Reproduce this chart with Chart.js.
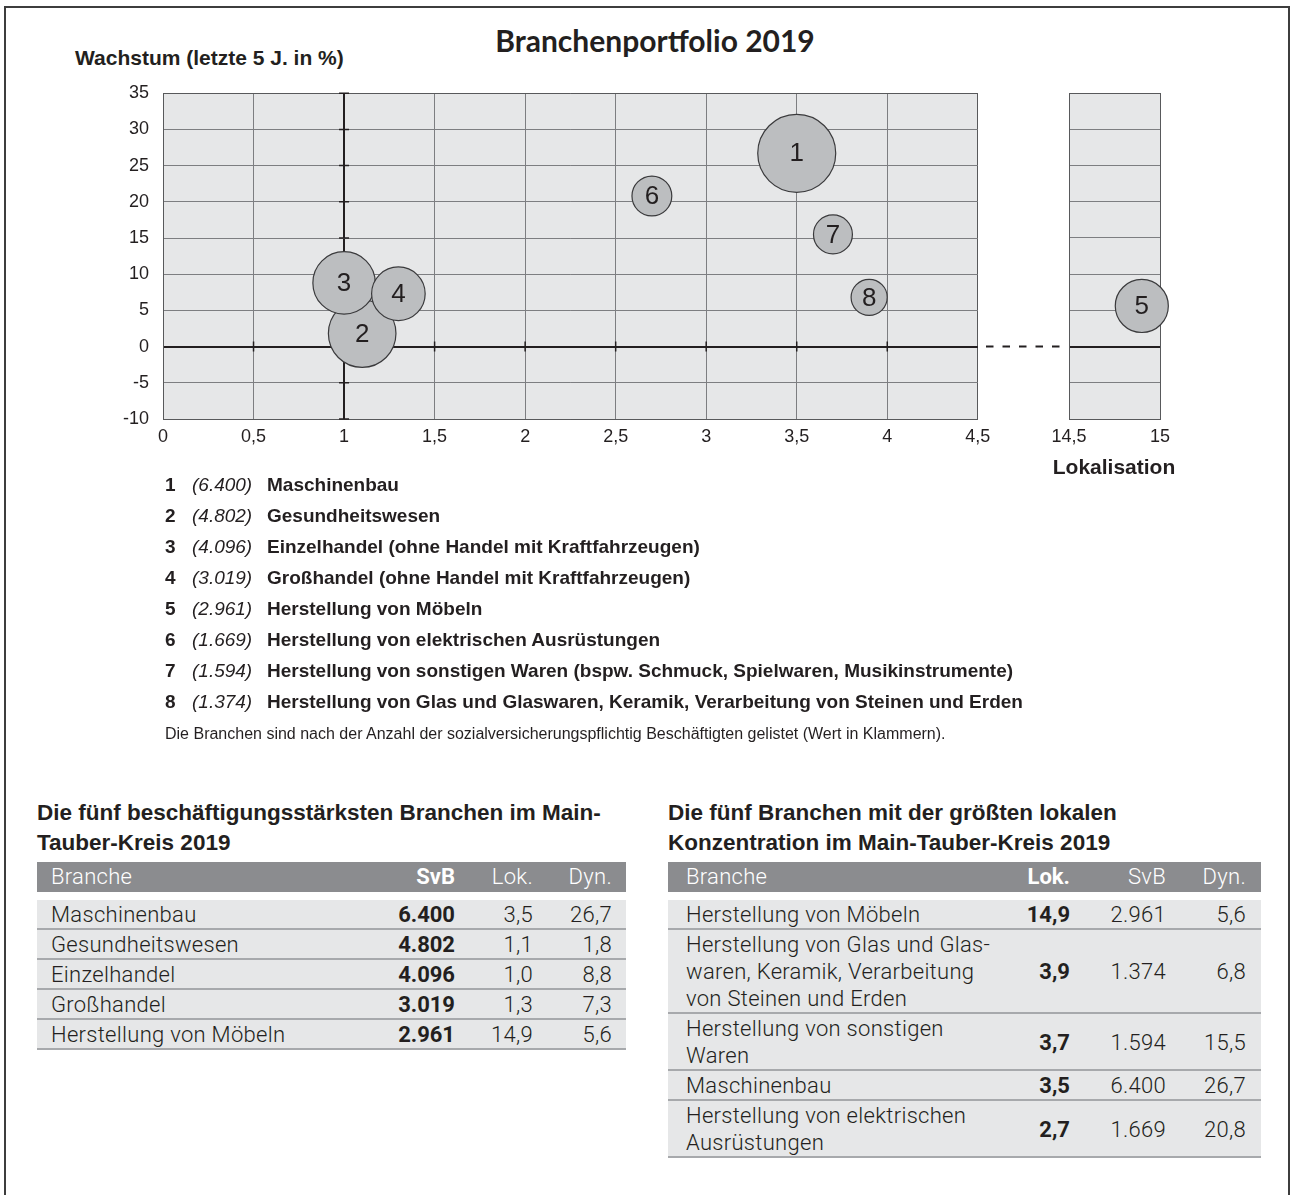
<!DOCTYPE html>
<html lang="de">
<head>
<meta charset="utf-8">
<title>Branchenportfolio 2019</title>
<script src="https://cdn.jsdelivr.net/npm/chart.js@4.4.1/dist/chart.umd.min.js"></script>
<style>
  body { margin: 0; width: 1291px; height: 1195px; overflow: hidden; position: relative; background: #fff;
         font-family: "Liberation Sans", Arial, sans-serif; color: #231f20; }
  #rahmen { position: absolute; left: 4px; top: 6px; width: 1282px; height: 1220px; border: 2px solid #3d3d3d; }
  #titel { position: absolute; left: 0; width: 1310px; top: 20px; text-align: center;
           font-family: Lato, sans-serif; font-weight: 700; font-size: 30px; line-height: 40px; }
  #ytitel { position: absolute; left: 75px; top: 47px; font-weight: 700; font-size: 21px; line-height: 22px; white-space: nowrap; }
  #xtitel { position: absolute; left: 1014px; width: 200px; top: 455px; text-align: center; font-weight: 700; font-size: 21px; line-height: 24px; }
  #links { position: absolute; left: 100px; top: 53px; }
  #rechts { position: absolute; left: 980px; top: 53px; }
  #liste { position: absolute; left: 165px; top: 469px; font-size: 19px; font-weight: 700; }
  #liste div { height: 31px; line-height: 31px; white-space: nowrap; }
  #liste span { display: inline-block; }
  #liste .nr { width: 27px; }
  #liste .svb { width: 75px; font-style: italic; font-weight: 400; }
  #fuss { position: absolute; left: 165px; top: 724px; font-size: 16px; line-height: 20px; white-space: nowrap; }
  .block { position: absolute; top: 798px; }
  .block h2 { margin: 0; font-size: 22.5px; line-height: 30px; font-weight: 700; white-space: nowrap; }
  .block table { border-collapse: separate; border-spacing: 0; table-layout: fixed; margin-top: 4px;
                 font-family: Roboto, sans-serif; font-size: 22px; font-weight: 300; letter-spacing: 0.3px; }
  .block th { background: #8b8c8f; color: #fff; font-weight: 300; line-height: 30px; padding: 0; text-align: right; border-bottom: 8px solid #fff; }
  .block td { background: #e6e7e8; line-height: 27px; padding: 1px 0 0 0; text-align: right; border-bottom: 2px solid #a7a9ac; vertical-align: middle; }
  .block th.b, .block td.b { font-weight: 700; letter-spacing: 0; }
  .block th.n, .block td.n { text-align: left; }
</style>
</head>
<body>
<div id="rahmen"></div>
<div id="titel">Branchenportfolio 2019</div>
<div id="ytitel">Wachstum (letzte 5 J. in %)</div>
<div id="links"><canvas id="portfolio" width="918" height="407"></canvas></div>
<div id="rechts"><canvas id="ausreisser" width="220" height="407"></canvas></div>
<div id="xtitel">Lokalisation</div>
<div id="liste"></div>
<div id="fuss">Die Branchen sind nach der Anzahl der sozialversicherungspflichtig Beschäftigten gelistet (Wert in Klammern).</div>
<div class="block" style="left:37px;">
  <h2>Die fünf beschäftigungsstärksten Branchen im Main-<br>Tauber-Kreis 2019</h2>
  <table id="tab1" style="width:589px;">
    <colgroup><col style="width:358px"><col style="width:60px"><col style="width:78px"><col style="width:93px"></colgroup>
  </table>
</div>
<div class="block" style="left:668px;">
  <h2>Die fünf Branchen mit der größten lokalen<br>Konzentration im Main-Tauber-Kreis 2019</h2>
  <table id="tab2" style="width:593px;">
    <colgroup><col style="width:342px"><col style="width:60px"><col style="width:96px"><col style="width:95px"></colgroup>
  </table>
</div>
<script>
// Branchen, nach SvB sortiert
var nummern = [1, 2, 3, 4, 5, 6, 7, 8];
var branchen = [
  'Maschinenbau',
  'Gesundheitswesen',
  'Einzelhandel (ohne Handel mit Kraftfahrzeugen)',
  'Großhandel (ohne Handel mit Kraftfahrzeugen)',
  'Herstellung von Möbeln',
  'Herstellung von elektrischen Ausrüstungen',
  'Herstellung von sonstigen Waren (bspw. Schmuck, Spielwaren, Musikinstrumente)',
  'Herstellung von Glas und Glaswaren, Keramik, Verarbeitung von Steinen und Erden'
];
var svb = [6400, 4802, 4096, 3019, 2961, 1669, 1594, 1374];
var lokalisation = [3.5, 1.1, 1.0, 1.3, 14.9, 2.7, 3.7, 3.9];
var wachstum = [26.7, 1.8, 8.8, 7.3, 5.6, 20.8, 15.5, 6.8];

// Achsen: [min, max, schritt]
var yAchse = [-10, 35, 5];
var xLinks = [0, 4.5, 0.5];
var xRechts = [14.5, 15, 0.5];

// Tabellen
var tab1Index = [0, 1, 2, 3, 4];
var tab1Namen = ['Maschinenbau', 'Gesundheitswesen', 'Einzelhandel', 'Großhandel', 'Herstellung von Möbeln'];
var tab2Index = [4, 7, 6, 0, 5];
var tab2Namen = [
  'Herstellung von Möbeln',
  'Herstellung von Glas und Glas-<br>waren, Keramik, Verarbeitung<br>von Steinen und Erden',
  'Herstellung von sonstigen<br>Waren',
  'Maschinenbau',
  'Herstellung von elektrischen<br>Ausrüstungen'
];

var schrift = '"Liberation Sans", Arial, sans-serif';
var dunkel = '#231f20';

function komma(v) {
  return String(Math.round(v * 10) / 10).replace('.', ',');
}
function tausender(v) {
  return String(v).replace(/\B(?=(\d{3})+(?!\d))/g, '.');
}
function dezimal(v) {
  return v.toFixed(1).replace('.', ',');
}

function punkte(filter) {
  var pts = [], nr = [];
  for (var i = 0; i < nummern.length; i++) {
    if (filter(lokalisation[i])) {
      pts.push({ x: lokalisation[i], y: wachstum[i], r: 0.4875 * Math.sqrt(svb[i]) });
      nr.push(nummern[i]);
    }
  }
  return { pts: pts, nr: nr };
}

var flaeche = {
  id: 'flaeche',
  beforeDraw: function (chart) {
    var a = chart.chartArea, ctx = chart.ctx;
    ctx.save();
    ctx.fillStyle = '#e6e7e8';
    ctx.fillRect(a.left, a.top, a.right - a.left, a.bottom - a.top);
    ctx.restore();
  }
};

// kleine Kreuzmarken auf den Achsen x = 1 und y = 0
var kreuze = {
  id: 'kreuze',
  beforeDatasetsDraw: function (chart) {
    var ctx = chart.ctx, sx = chart.scales.x, sy = chart.scales.y;
    var x1 = sx.getPixelForValue(1), y0 = sy.getPixelForValue(0);
    ctx.save();
    ctx.strokeStyle = dunkel;
    ctx.lineWidth = 1.5;
    ctx.beginPath();
    sy.ticks.forEach(function (t) {
      var y = sy.getPixelForValue(t.value);
      ctx.moveTo(x1 - 5, y); ctx.lineTo(x1 + 5, y);
    });
    sx.ticks.forEach(function (t) {
      var x = sx.getPixelForValue(t.value);
      if (x > chart.chartArea.left + 1 && x < chart.chartArea.right - 1) {
        ctx.moveTo(x, y0 - 5); ctx.lineTo(x, y0 + 5);
      }
    });
    ctx.stroke();
    ctx.restore();
  }
};

var beschriftung = {
  id: 'beschriftung',
  afterDatasetsDraw: function (chart) {
    var ctx = chart.ctx;
    chart.data.datasets.forEach(function (ds, d) {
      chart.getDatasetMeta(d).data.forEach(function (el, i) {
        ctx.save();
        ctx.fillStyle = dunkel;
        ctx.font = '26px ' + schrift;
        ctx.textAlign = 'center';
        ctx.textBaseline = 'middle';
        ctx.fillText(ds.nummern[i], el.x, el.y + 1);
        ctx.restore();
      });
    });
  }
};

var strichlinie = {
  id: 'strichlinie',
  afterDraw: function (chart) {
    var ctx = chart.ctx, a = chart.chartArea;
    var y = chart.scales.y.getPixelForValue(0);
    ctx.save();
    ctx.strokeStyle = dunkel;
    ctx.lineWidth = 2;
    ctx.setLineDash([7.5, 9]);
    ctx.beginPath();
    ctx.moveTo(a.left - 83, y);
    ctx.lineTo(a.left - 7, y);
    ctx.stroke();
    ctx.restore();
  }
};

function gitter(achse, kreuz) {
  return {
    drawTicks: false,
    color: function (c) {
      if (c.tick && c.tick.value === kreuz) return dunkel;
      if (c.tick && (c.tick.value === achse[0] || c.tick.value === achse[1])) return '#58595b';
      return '#7d7e81';
    },
    lineWidth: function (c) {
      return c.tick && c.tick.value === kreuz ? 2 : 1;
    }
  };
}

function diagramm(canvas, filter, xAchse, kreuzX, mitYTicks, yBreite, plugins) {
  var p = punkte(filter);
  return new Chart(canvas, {
    type: 'bubble',
    data: {
      datasets: [{
        data: p.pts,
        nummern: p.nr,
        backgroundColor: '#bcbec0',
        borderColor: '#3a3a3c',
        borderWidth: 1.2,
        clip: false
      }]
    },
    options: {
      responsive: false,
      animation: false,
      events: [],
      layout: { padding: { top: 40, right: 40, left: 0, bottom: 0 } },
      plugins: { legend: { display: false }, tooltip: { enabled: false } },
      scales: {
        x: {
          type: 'linear', min: xAchse[0], max: xAchse[1],
          ticks: { stepSize: xAchse[2], padding: 7, color: dunkel, font: { size: 18, family: schrift }, callback: komma },
          grid: gitter(xAchse, kreuzX),
          border: { color: '#58595b', width: 1 },
          afterFit: function (s) { s.height = 41; }
        },
        y: {
          type: 'linear', min: yAchse[0], max: yAchse[1],
          ticks: { display: mitYTicks, stepSize: yAchse[2], padding: 14, color: dunkel, font: { size: 18, family: schrift } },
          grid: gitter(yAchse, 0),
          border: { color: '#58595b', width: 1 },
          afterFit: function (s) { s.width = yBreite; }
        }
      }
    },
    plugins: plugins
  });
}

diagramm(document.getElementById('portfolio'), function (x) { return x <= xLinks[1]; },
  xLinks, 1, true, 63, [flaeche, kreuze, beschriftung]);
diagramm(document.getElementById('ausreisser'), function (x) { return x >= xRechts[0]; },
  xRechts, null, false, 89, [flaeche, beschriftung, strichlinie]);

// Liste unter dem Diagramm
var liste = document.getElementById('liste');
nummern.forEach(function (n, i) {
  var z = document.createElement('div');
  z.innerHTML = '<span class="nr">' + n + '</span><span class="svb">(' + tausender(svb[i]) + ')</span><span>' + branchen[i] + '</span>';
  liste.appendChild(z);
});

// Tabellen
function tabelle(id, kopf, index, namen, spalten) {
  var t = document.getElementById(id);
  var h = '<tr><th class="n" style="padding-left:' + spalten[0] + 'px">Branche</th>';
  kopf.forEach(function (k, j) {
    h += '<th class="' + (j === 0 ? 'b' : '') + '"' + (j === 2 ? ' style="padding-right:' + spalten[1] + 'px"' : '') + '>' + k + '</th>';
  });
  h += '</tr>';
  index.forEach(function (k, r) {
    var werte = id === 'tab1'
      ? [tausender(svb[k]), dezimal(lokalisation[k]), dezimal(wachstum[k])]
      : [dezimal(lokalisation[k]), tausender(svb[k]), dezimal(wachstum[k])];
    h += '<tr><td class="n" style="padding-left:' + spalten[0] + 'px">' + namen[r] + '</td>';
    werte.forEach(function (w, j) {
      h += '<td class="' + (j === 0 ? 'b' : '') + '"' + (j === 2 ? ' style="padding-right:' + spalten[1] + 'px"' : '') + '>' + w + '</td>';
    });
    h += '</tr>';
  });
  t.insertAdjacentHTML('beforeend', h);
}
tabelle('tab1', ['SvB', 'Lok.', 'Dyn.'], tab1Index, tab1Namen, [14, 14]);
tabelle('tab2', ['Lok.', 'SvB', 'Dyn.'], tab2Index, tab2Namen, [18, 15]);
</script>
</body>
</html>
